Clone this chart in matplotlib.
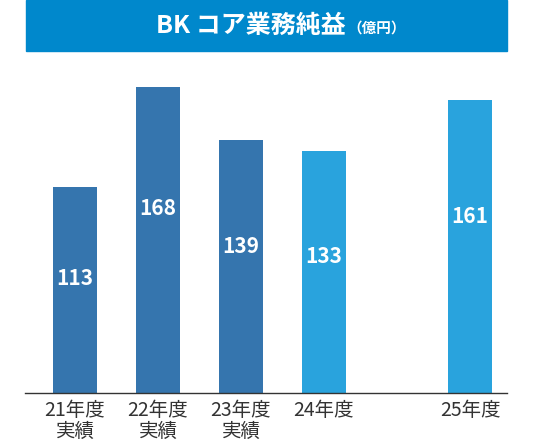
import matplotlib
matplotlib.use("Agg")
import matplotlib.pyplot as plt
from matplotlib.patches import Rectangle

plt.rcParams['font.family'] = ['Noto Sans CJK JP', 'DejaVu Sans']

categories = ["21年度\n実績", "22年度\n実績", "23年度\n実績", "24年度", "25年度"]
values = [113, 168, 139, 133, 161]
label_frac = [0.57, 0.615, 0.593, 0.578, 0.614]
positions = [0, 1, 2, 3, 4.76]
colors = ["#3575AE", "#3575AE", "#3575AE", "#29A3DD", "#29A3DD"]
title_main = "BK コア業務純益"
title_unit = "（億円）"

W, H = 539, 443
fig = plt.figure(figsize=(W / 100, H / 100), dpi=100)

ax_left, ax_right = 25, 507
ax_bottom, ax_top = 393, 60
ax = fig.add_axes([ax_left / W, 1 - ax_bottom / H, (ax_right - ax_left) / W, (ax_bottom - ax_top) / H])
px_per_unit = 1.82
ax.set_ylim(0, (ax_bottom - ax_top) / px_per_unit)
ax.set_xlim(-0.602, 5.205)

ax.bar(positions, values, width=0.53, color=colors, zorder=2)
for x, v, f in zip(positions, values, label_frac):
    ax.annotate(str(v), (x, v * f), xytext=(0, -2.2), textcoords='offset points',
                ha='center', va='center', color='white',
                fontsize=15, fontweight='bold')

ax.set_xticks(positions)
ax.set_xticklabels(categories, fontsize=14, color='#333333', linespacing=1.0)
ax.tick_params(axis='x', length=0, pad=5)
ax.set_yticks([])
for s in ['top', 'right', 'left']:
    ax.spines[s].set_visible(False)
ax.spines['bottom'].set_color('#333333')
ax.spines['bottom'].set_linewidth(1.0)

# title banner
fig.patches.append(Rectangle((26 / W, 1 - 51 / H), (507 - 26) / W, 51 / H,
                             transform=fig.transFigure, color='#0088CC', zorder=0))
fig.text(346 / W, 1 - 26 / H, title_main, ha='right', va='center', color='white',
         fontsize=18, fontweight='bold')
fig.text(347 / W, 1 - 28 / H, title_unit, ha='left', va='center', color='white',
         fontsize=10.5, fontweight='bold')

fig.savefig("out.png", dpi=100)
